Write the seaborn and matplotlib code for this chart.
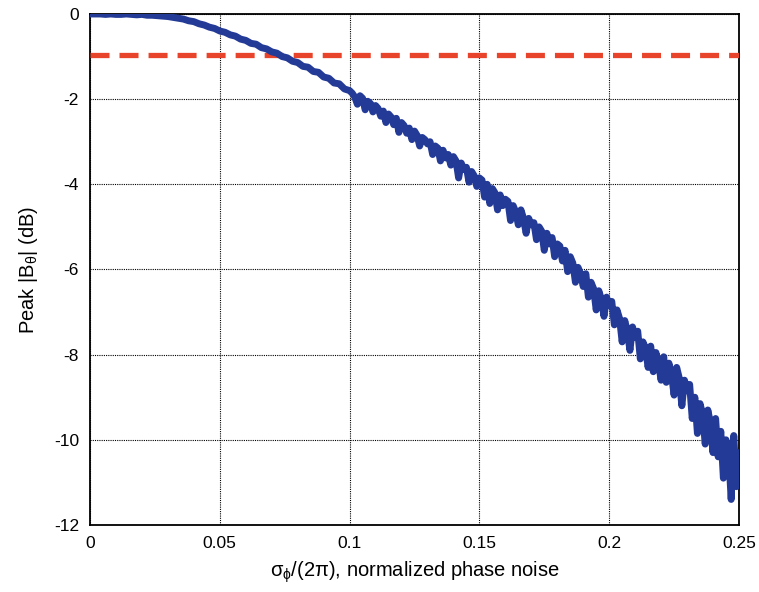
import numpy as np
import matplotlib
matplotlib.use('Agg')
import matplotlib.pyplot as plt
import seaborn as sns

# normalized phase noise sigma_phi/(2pi): step 0.002 up to 0.1, then 0.001
x_smooth = np.round(np.arange(0, 0.1001, 0.002), 3)
x_noisy = np.round(np.arange(0.101, 0.2501, 0.001), 3)

# Peak |B_theta| (dB)
peak_smooth = [
    0.00, 0.00, 0.00, -0.01, 0.00, -0.01, -0.01, 0.00, -0.01, -0.02,
    -0.01, -0.03, -0.03, -0.04, -0.05, -0.06, -0.08, -0.10, -0.12, -0.16,
    -0.18, -0.23, -0.26, -0.31, -0.34, -0.40, -0.43, -0.49, -0.52, -0.59,
    -0.62, -0.69, -0.71, -0.79, -0.82, -0.89, -0.92, -1.00, -1.03, -1.11,
    -1.14, -1.23, -1.25, -1.35, -1.37, -1.48, -1.51, -1.62, -1.64, -1.76,
    -1.80,
]
peak_noisy = [
    -1.86, -1.95, -2.12, -1.92, -1.98, -2.25, -2.05, -2.10, -2.30, -2.15,
    -2.22, -2.40, -2.28, -2.55, -2.35, -2.42, -2.60, -2.45, -2.78, -2.55,
    -2.62, -2.80, -2.68, -2.95, -2.75, -2.85, -3.10, -2.90, -2.95, -3.05,
    -3.00, -3.30, -3.10, -3.15, -3.45, -3.20, -3.38, -3.30, -3.55, -3.35,
    -3.45, -3.85, -3.50, -3.65, -3.60, -3.95, -3.70, -3.80, -4.05, -3.85,
    -3.90, -4.30, -4.00, -4.45, -4.10, -4.20, -4.60, -4.25, -4.50, -4.35,
    -4.40, -4.85, -4.50, -4.65, -4.95, -4.60, -4.80, -5.15, -4.80, -4.95,
    -4.90, -5.30, -5.00, -5.10, -5.55, -5.15, -5.40, -5.25, -5.70, -5.40,
    -5.45, -5.80, -5.55, -6.05, -5.70, -5.85, -6.30, -5.95, -6.10, -6.40,
    -6.10, -6.65, -6.30, -6.45, -6.95, -6.50, -6.70, -7.10, -6.65, -6.85,
    -6.75, -7.30, -6.95, -7.15, -7.70, -7.20, -7.45, -7.90, -7.35, -7.60,
    -7.45, -8.10, -7.70, -7.85, -8.30, -7.80, -8.40, -7.95, -8.20, -8.60,
    -8.05, -8.65, -8.20, -8.45, -8.95, -8.30, -8.55, -9.20, -8.60, -8.85,
    -8.70, -9.50, -9.00, -9.85, -9.15, -9.40, -10.10, -9.30, -9.60, -10.30,
    -9.50, -10.40, -9.80, -10.90, -10.00, -10.30, -11.40, -9.90, -11.10, -10.30,
]

x_noise = np.concatenate([x_smooth, x_noisy])
peak_db = peak_smooth + peak_noisy

# red dashed reference level
x_ref = [0.0, 0.25]
ref_db = [-0.97, -0.97]

x_ticks = [0, 0.05, 0.1, 0.15, 0.2, 0.25]
x_ticklabels = ['0', '0.05', '0.1', '0.15', '0.2', '0.25']
y_ticks = [0, -2, -4, -6, -8, -10, -12]

sns.set_style('white')
plt.rcParams['font.family'] = ['Liberation Sans', 'DejaVu Sans']
plt.rcParams['mathtext.fontset'] = 'custom'
plt.rcParams['mathtext.rm'] = 'Liberation Sans'
plt.rcParams['mathtext.it'] = 'Liberation Sans'
plt.rcParams['axes.unicode_minus'] = False
plt.rcParams['text.color'] = 'k'
plt.rcParams['axes.labelcolor'] = 'k'

fig = plt.figure(figsize=(7.59, 5.92), dpi=100)
ax = fig.add_axes([0.1186, 0.1132, 0.855, 0.8632])

sns.lineplot(x=x_ref, y=ref_db, ax=ax, color='#e8432b', linewidth=3.8,
             linestyle=(0, (3.6, 1.9)), zorder=3)
sns.lineplot(x=x_noise, y=peak_db, ax=ax, color='#233a96', linewidth=5,
             zorder=4)

ax.set_xlim(0, 0.25)
ax.set_ylim(-12, 0)
ax.set_xticks(x_ticks)
ax.set_xticklabels(x_ticklabels)
ax.set_yticks(y_ticks)
ax.grid(True, color='k', linestyle=(0, (1, 1)), linewidth=0.8)
ax.tick_params(direction='in', length=5, width=1, colors='k',
               labelsize=12.5, pad=8)
for sp in ax.spines.values():
    sp.set_color('k')
    sp.set_linewidth(1.3)

ax.set_xlabel(r'$\sigma_\phi$/(2$\pi$), normalized phase noise', fontsize=14.5, labelpad=6)
ax.set_ylabel(r'Peak |B$_\theta$| (dB)', fontsize=14.5, labelpad=10)

plt.savefig('out.png', dpi=100)
plt.close()
